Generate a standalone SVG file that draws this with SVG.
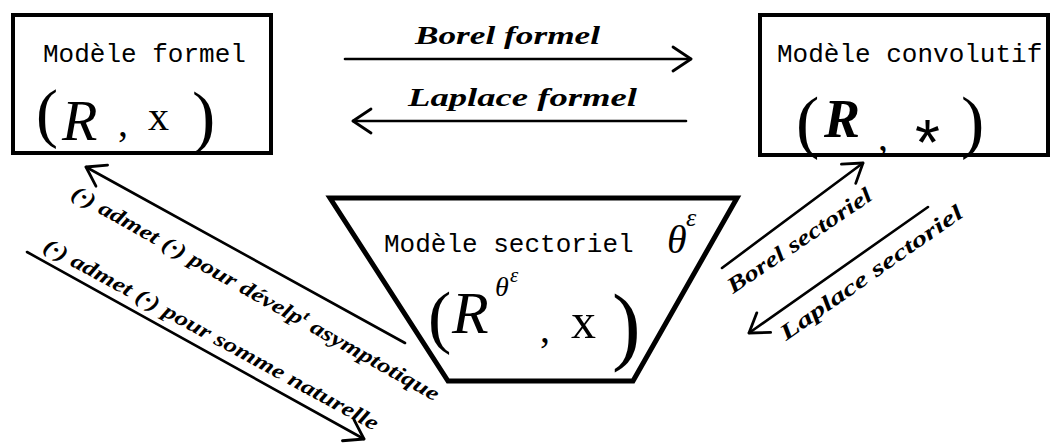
<svg xmlns="http://www.w3.org/2000/svg" width="1052" height="447" viewBox="0 0 1052 447">
<style>
.box{fill:#fff;stroke:#000;stroke-width:4}
.mono{font-family:"Liberation Mono","DejaVu Sans Mono",monospace;font-size:26px;fill:#000}
.hand{font-family:"Liberation Serif","DejaVu Serif",serif;fill:#000}
.lab{font-family:"Liberation Serif","DejaVu Serif",serif;font-style:italic;font-weight:bold;fill:#000}
.conn{stroke:#000;stroke-width:2.6;fill:none;stroke-linecap:round}
</style>
<defs>
<marker id="arr" markerUnits="userSpaceOnUse" markerWidth="30" markerHeight="30" refX="20" refY="15" orient="auto">
<path d="M2,3 L20,15 L2,27" fill="none" stroke="#000" stroke-width="2.8" stroke-linecap="round" stroke-linejoin="round"/>
</marker>
</defs>
<rect width="1052" height="447" fill="#fff"/>

<g id="formel">
<rect class="box" x="13" y="15" width="258" height="138"/>
<text class="mono" x="43" y="62">Modèle formel</text>
<text class="hand" x="36" y="135" font-size="66">(</text>
<text class="hand" x="62" y="140" font-size="58" font-style="italic">R</text>
<text class="hand" x="118" y="136" font-size="40">,</text>
<text class="hand" x="148" y="130" font-size="42">x</text>
<text class="hand" x="192" y="140" font-size="70">)</text>
</g>

<g id="convolutif">
<rect class="box" x="760" y="15" width="288" height="140"/>
<text class="mono" x="777" y="62">Modèle convolutif</text>
<text class="hand" x="796" y="145" font-size="70">(</text>
<text class="hand" x="824" y="137" font-size="54" font-weight="bold" font-style="italic">R</text>
<text class="hand" x="878" y="150" font-size="40">,</text>
<text x="915" y="165" font-size="64" font-family="Liberation Sans, sans-serif">*</text>
<text class="hand" x="961" y="145" font-size="70">)</text>
</g>

<g id="sectoriel">
<polygon points="330,198 737,198 633,381 448,381" fill="#fff" stroke="#000" stroke-width="5" stroke-linejoin="miter"/>
<text class="mono" x="384" y="252">Modèle sectoriel</text>
<text class="hand" x="667" y="253" font-size="40" font-style="italic">θ</text>
<text class="hand" x="686" y="226" font-size="26" font-style="italic">ε</text>
<text class="hand" x="428" y="340" font-size="70">(</text>
<text class="hand" x="452" y="333" font-size="60" font-style="italic">R</text>
<text class="hand" x="495" y="296" font-size="28" font-style="italic">θ</text>
<text class="hand" x="510" y="282" font-size="21" font-style="italic">ε</text>
<text class="hand" x="540" y="342" font-size="40">,</text>
<text class="hand" x="571" y="338" font-size="50">x</text>
<text class="hand" x="612" y="354" font-size="86">)</text>
</g>

<g id="connectors">
<line class="conn" x1="345" y1="59" x2="691" y2="59" marker-end="url(#arr)"/>
<line class="conn" x1="686" y1="121" x2="353" y2="121" marker-end="url(#arr)"/>
<line class="conn" x1="405" y1="343" x2="86" y2="167" marker-end="url(#arr)"/>
<line class="conn" x1="27" y1="252" x2="364" y2="439" marker-end="url(#arr)"/>
<line class="conn" x1="722" y1="268" x2="863" y2="163" marker-end="url(#arr)"/>
<line class="conn" x1="928" y1="207" x2="749" y2="333" marker-end="url(#arr)"/>
</g>

<g id="labels">
<text class="lab" x="415" y="44" font-size="26" textLength="185" lengthAdjust="spacingAndGlyphs">Borel formel</text>
<text class="lab" x="408" y="106" font-size="26" textLength="229" lengthAdjust="spacingAndGlyphs">Laplace formel</text>
<text class="lab" font-size="21" transform="translate(70,197) rotate(29.3)" textLength="418" lengthAdjust="spacingAndGlyphs">(·) admet (·) pour dévelp<tspan dy="-8" font-size="14">t</tspan><tspan dy="8"> asymptotique</tspan></text>
<text class="lab" font-size="21" transform="translate(42,250) rotate(28.6)" textLength="378" lengthAdjust="spacingAndGlyphs">(·) admet (·) pour somme naturelle</text>
<text class="lab" font-size="22" transform="translate(733,294) rotate(-34)" textLength="170" lengthAdjust="spacingAndGlyphs">Borel sectoriel</text>
<text class="lab" font-size="22" transform="translate(786,341) rotate(-35)" textLength="218" lengthAdjust="spacingAndGlyphs">Laplace sectoriel</text>
</g>
</svg>
